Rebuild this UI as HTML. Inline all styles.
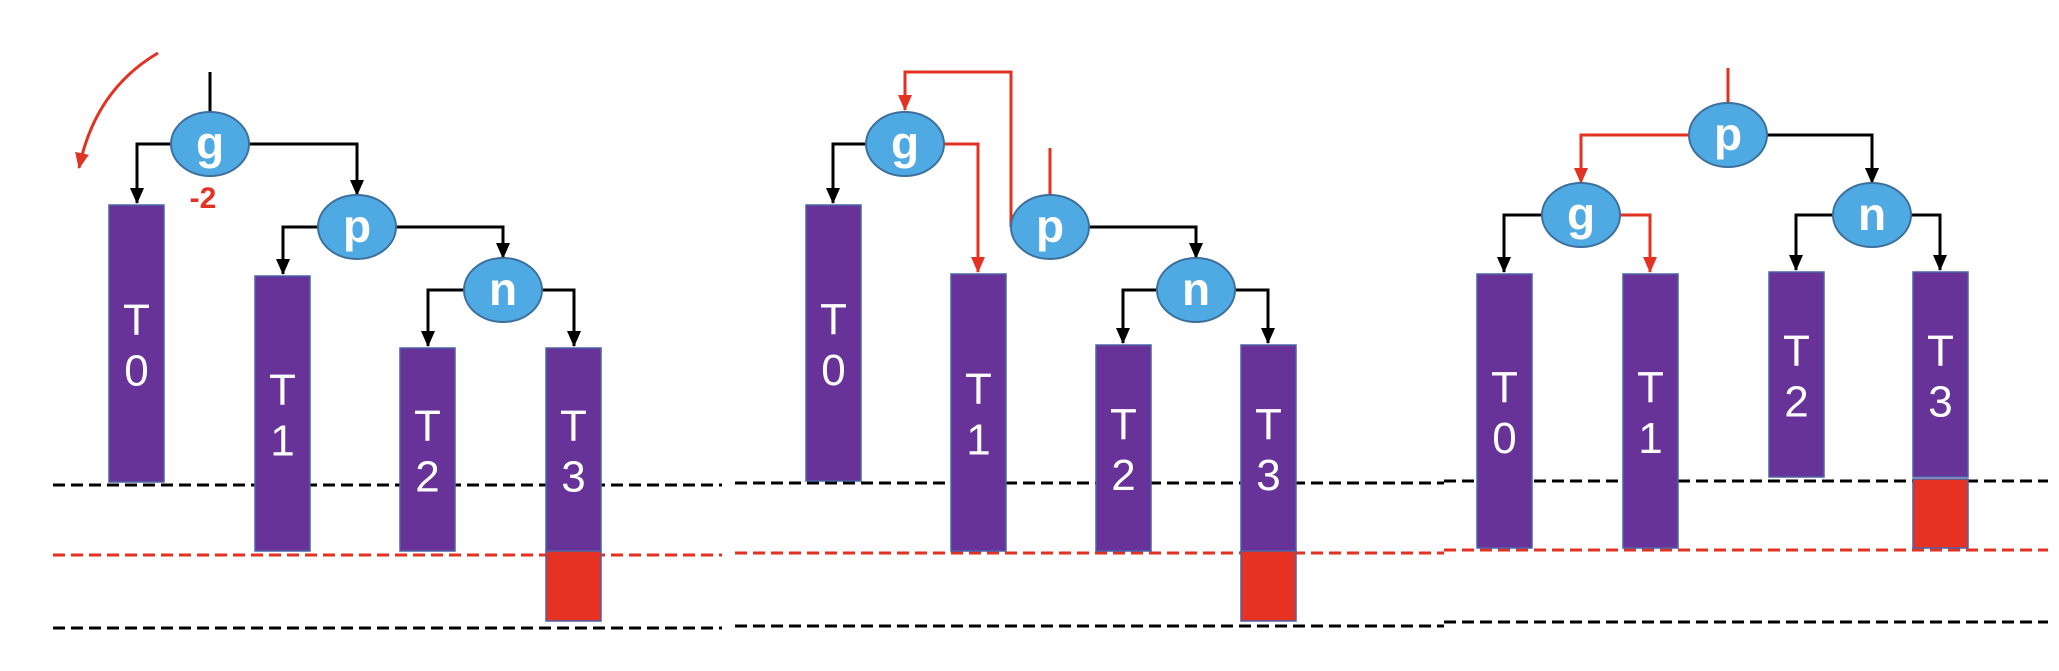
<!DOCTYPE html>
<html><head><meta charset="utf-8"><style>
html,body{margin:0;padding:0;background:#fff;}
svg{display:block;}
text{font-family:"Liberation Sans",sans-serif;}
</style></head><body>
<svg id="c" width="2059" height="671" viewBox="0 0 2059 671">
<defs>
<marker id="ab" markerWidth="16" markerHeight="14" refX="15" refY="7" orient="auto" markerUnits="userSpaceOnUse" viewBox="0 0 16 14"><path d="M0,0 L16,7 L0,14 z" fill="#000"/></marker>
<marker id="ar" markerWidth="16" markerHeight="14" refX="15" refY="7" orient="auto" markerUnits="userSpaceOnUse" viewBox="0 0 16 14"><path d="M0,0 L16,7 L0,14 z" fill="#e23222"/></marker>
</defs>
<g id="lines"></g>
<g id="bars"></g>
<g id="edges"></g>
<g id="nodes"></g>
<path d="M158,53 Q95,90 79,168" fill="none" stroke="#e23222" stroke-width="3" marker-end="url(#ar)"/>
<text x="203" y="208" font-size="30" font-weight="bold" fill="#e23222" text-anchor="middle">-2</text>
</svg>
<script>
const NS='http://www.w3.org/2000/svg';
function mk(tag,attrs,parent){const e=document.createElementNS(NS,tag);for(const k in attrs)e.setAttribute(k,attrs[k]);parent.appendChild(e);return e;}
const barX=[109,255,400,546, 806,951,1096,1241, 1477,1623,1769,1913];
const barTop=[205,276,348,348, 205,274,345,345, 274,274,272,272];
const barBottom=[482,551,551,551, 481,551,551,551, 548,548,477,477];
const barLabel=['0','1','2','3','0','1','2','3','0','1','2','3'];
const redTop=[551,551,479];
const redBottom=[621,621,548];
const redX=[546,1241,1913];
const B=document.getElementById('bars');
barX.forEach((x,i)=>{
  const r=mk('rect',{x:x,y:barTop[i],width:55,height:barBottom[i]-barTop[i],fill:'#673399',stroke:'#4d62a6','stroke-width':1.5},B);
  
  
  const cy=(barTop[i]+barBottom[i])/2;
  const t=mk('text',{x:x+27.5,y:cy-9,'font-size':44,fill:'#fff','text-anchor':'middle'},B);t.textContent='T';
  
  
  const d=mk('text',{x:x+27.5,y:cy+42,'font-size':44,fill:'#fff','text-anchor':'middle'},B);d.textContent=barLabel[i];
  
  
});
redX.forEach((x,i)=>{
  const r=mk('rect',{x:x,y:redTop[i],width:55,height:redBottom[i]-redTop[i],fill:'#e63222',stroke:'#4d62a6','stroke-width':1.5},B);
  
  
});
const L=document.getElementById('lines');
const lineSeg=[[53,722,485,'#000'],[53,722,555,'#e23222'],[53,722,628,'#000'],
 [735,1444,483,'#000'],[735,1444,553,'#e23222'],[735,1444,626,'#000'],
 [1444,2048,481,'#000'],[1444,2048,550,'#e23222'],[1444,2048,622,'#000']];
lineSeg.forEach(s=>{
  const l=mk('line',{x1:s[0],x2:s[1],y1:s[2],y2:s[2],stroke:s[3],'stroke-width':3,'stroke-dasharray':'12 6'},L);
  
  
});
const E=document.getElementById('edges');
const edges=[
 ['M210,72 V114','#000',0],['M171,144 H137 V203','#000',1],['M249,144 H357 V195','#000',1],
 ['M318,227 H283 V274','#000',1],['M396,227 H503 V258','#000',1],
 ['M464,290 H428 V346','#000',1],['M542,290 H574 V346','#000',1],
 ['M866,144 H833 V203','#000',1],['M944,144 H978 V272','#e23222',1],
 ['M1011,227 V72 H905 V110','#e23222',1],['M1050,148 V197','#e23222',0],
 ['M1089,227 H1196 V258','#000',1],['M1157,290 H1123 V343','#000',1],['M1235,290 H1268 V343','#000',1],
 ['M1728,68 V104','#e23222',0],['M1689,135 H1581 V183','#e23222',1],['M1767,135 H1872 V183','#000',1],
 ['M1542,215 H1504 V272','#000',1],['M1620,215 H1650 V272','#e23222',1],
 ['M1833,215 H1796 V270','#000',1],['M1911,215 H1940 V270','#000',1]
];
edges.forEach(e=>{
  const a={d:e[0],fill:'none',stroke:e[1],'stroke-width':3};
  if(e[2])a['marker-end']=e[1]=='#000'?'url(#ab)':'url(#ar)';
  const p=mk('path',a,E);
  
  
});
const N=document.getElementById('nodes');
const nodeX=[210,357,503, 905,1050,1196, 1728,1581,1872];
const nodeY=[144,227,290, 144,227,290, 135,215,215];
const nodeL=['g','p','n','g','p','n','p','g','n'];
nodeX.forEach((x,i)=>{
  const el=mk('ellipse',{cx:x,cy:nodeY[i],rx:39,ry:32,fill:'#4faae3',stroke:'#3c6f9c','stroke-width':2},N);
  
  
  const t=mk('text',{x:x,y:nodeY[i]+15,'font-size':46,'font-weight':'bold',fill:'#fff','text-anchor':'middle'},N);
  t.textContent=nodeL[i];
  
  
});
</script>
</body></html>
